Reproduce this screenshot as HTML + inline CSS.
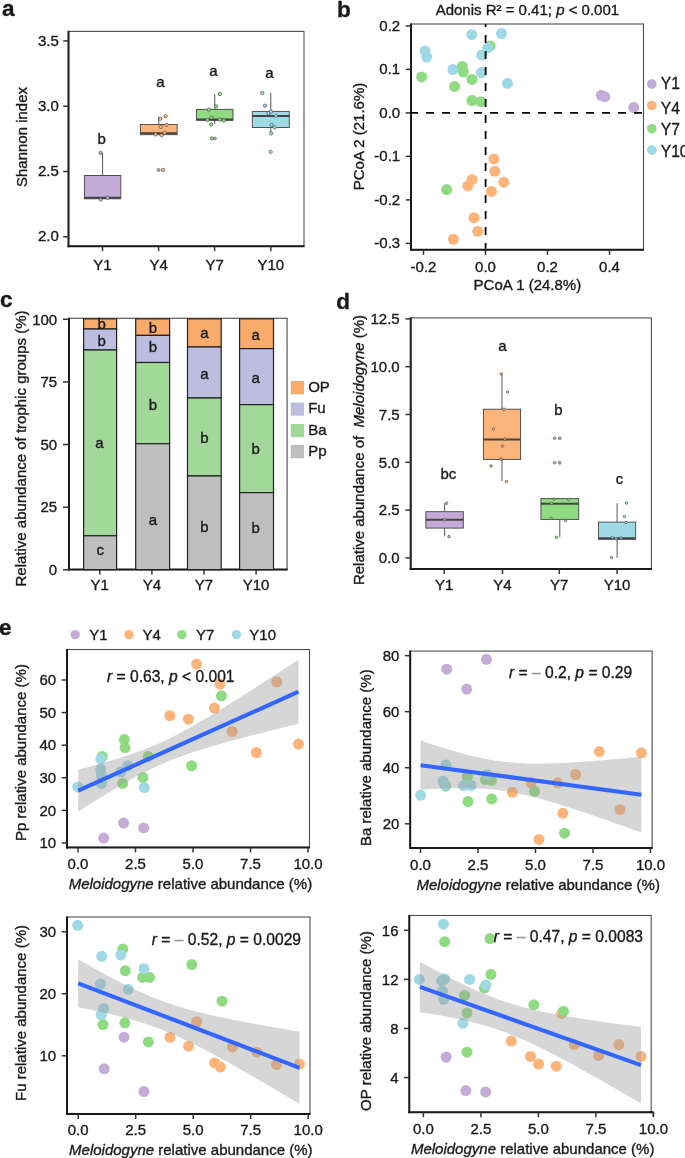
<!DOCTYPE html>
<html><head><meta charset="utf-8"><style>html,body{margin:0;padding:0;background:#fff;width:685px;height:1158px;overflow:hidden}svg{display:block;will-change:transform} text{stroke:#1a1a1a;stroke-width:0.35px}</style></head>
<body>
<svg width="685" height="1158" viewBox="0 0 685 1158" font-family='"Liberation Sans", sans-serif' fill="#1a1a1a">
<rect width="685" height="1158" fill="#fff"/>
<text x="1.9" y="15.8" font-size="22.5" text-anchor="start" font-weight="bold">a</text>
<text x="336.9" y="16.6" font-size="22.5" text-anchor="start" font-weight="bold">b</text>
<text x="0" y="306.6" font-size="22.5" text-anchor="start" font-weight="bold">c</text>
<text x="336.3" y="308.8" font-size="22.5" text-anchor="start" font-weight="bold">d</text>
<text x="-1" y="634.9" font-size="22.5" text-anchor="start" font-weight="bold">e</text>
<rect x="68.5" y="31.4" width="235.5" height="214.79999999999998" fill="none" stroke="#4d4d4d" stroke-width="1.1"/>
<line x1="68.5" y1="30.9" x2="68.5" y2="247.2" stroke="#1a1a1a" stroke-width="2" />
<line x1="67.5" y1="246.2" x2="304.5" y2="246.2" stroke="#1a1a1a" stroke-width="2" />
<line x1="63.2" y1="236.8" x2="68.5" y2="236.8" stroke="#333" stroke-width="1.5" />
<text x="58.9" y="241.4" font-size="15" text-anchor="end" >2.0</text>
<line x1="63.2" y1="171.5" x2="68.5" y2="171.5" stroke="#333" stroke-width="1.5" />
<text x="58.9" y="176.1" font-size="15" text-anchor="end" >2.5</text>
<line x1="63.2" y1="106.20000000000002" x2="68.5" y2="106.20000000000002" stroke="#333" stroke-width="1.5" />
<text x="58.9" y="110.80000000000001" font-size="15" text-anchor="end" >3.0</text>
<line x1="63.2" y1="40.900000000000034" x2="68.5" y2="40.900000000000034" stroke="#333" stroke-width="1.5" />
<text x="58.9" y="45.500000000000036" font-size="15" text-anchor="end" >3.5</text>
<line x1="102.5" y1="246.2" x2="102.5" y2="251.2" stroke="#333" stroke-width="1.5" />
<text x="102.5" y="270" font-size="15" text-anchor="middle" >Y1</text>
<line x1="158.6" y1="246.2" x2="158.6" y2="251.2" stroke="#333" stroke-width="1.5" />
<text x="158.6" y="270" font-size="15" text-anchor="middle" >Y4</text>
<line x1="214.6" y1="246.2" x2="214.6" y2="251.2" stroke="#333" stroke-width="1.5" />
<text x="214.6" y="270" font-size="15" text-anchor="middle" >Y7</text>
<line x1="270.8" y1="246.2" x2="270.8" y2="251.2" stroke="#333" stroke-width="1.5" />
<text x="270.8" y="270" font-size="15" text-anchor="middle" >Y10</text>
<text x="21.5" y="137" font-size="15" text-anchor="middle" transform="rotate(-90 21.5 137)" dy="5">Shannon index</text>
<line x1="102.6" y1="152.9" x2="102.6" y2="175.5" stroke="#444" stroke-width="0.9" />
<rect x="84.4" y="175.5" width="36.39999999999999" height="23.30000000000001" fill="#c4abd8" stroke="#444" stroke-width="0.9"/>
<line x1="84.4" y1="197.8" x2="120.8" y2="197.8" stroke="#444" stroke-width="2" />
<line x1="158.75" y1="116.6" x2="158.75" y2="124.5" stroke="#444" stroke-width="0.9" />
<rect x="140.4" y="124.5" width="36.69999999999999" height="10.199999999999989" fill="#fdb47b" stroke="#444" stroke-width="0.9"/>
<line x1="140.4" y1="133.2" x2="177.1" y2="133.2" stroke="#444" stroke-width="2" />
<line x1="214.75" y1="94" x2="214.75" y2="109.4" stroke="#444" stroke-width="0.9" />
<line x1="214.75" y1="120.3" x2="214.75" y2="124" stroke="#444" stroke-width="0.9" />
<rect x="196.5" y="109.4" width="36.5" height="10.899999999999991" fill="#8fdb82" stroke="#444" stroke-width="0.9"/>
<line x1="196.5" y1="119.6" x2="233" y2="119.6" stroke="#444" stroke-width="2" />
<line x1="270.8" y1="93" x2="270.8" y2="111.4" stroke="#444" stroke-width="0.9" />
<line x1="270.8" y1="127.5" x2="270.8" y2="133.4" stroke="#444" stroke-width="0.9" />
<rect x="252.3" y="111.4" width="37.0" height="16.099999999999994" fill="#9fd9e5" stroke="#444" stroke-width="0.9"/>
<line x1="252.3" y1="116.1" x2="289.3" y2="116.1" stroke="#444" stroke-width="2" />
<circle cx="100.7" cy="199.6" r="1.7" fill="#c4abd8" stroke="#444" stroke-width="0.6"/>
<circle cx="107.7" cy="197.6" r="1.7" fill="#c4abd8" stroke="#444" stroke-width="0.6"/>
<circle cx="100.5" cy="152.9" r="1.7" fill="#c4abd8" stroke="#444" stroke-width="0.6"/>
<circle cx="158.5" cy="169.9" r="2" fill="#999"/>
<circle cx="160.3" cy="118.8" r="1.7" fill="#fdb47b" stroke="#444" stroke-width="0.6"/>
<circle cx="165.5" cy="116.3" r="1.7" fill="#fdb47b" stroke="#444" stroke-width="0.6"/>
<circle cx="160.8" cy="127" r="1.7" fill="#fdb47b" stroke="#444" stroke-width="0.6"/>
<circle cx="166.5" cy="124.8" r="1.7" fill="#fdb47b" stroke="#444" stroke-width="0.6"/>
<circle cx="155.6" cy="134.4" r="1.7" fill="#fdb47b" stroke="#444" stroke-width="0.6"/>
<circle cx="161.5" cy="135.2" r="1.7" fill="#fdb47b" stroke="#444" stroke-width="0.6"/>
<circle cx="164.7" cy="132.7" r="1.7" fill="#fdb47b" stroke="#444" stroke-width="0.6"/>
<circle cx="163" cy="169.9" r="1.7" fill="#fdb47b" stroke="#444" stroke-width="0.6"/>
<circle cx="214.9" cy="138.4" r="2" fill="#999"/>
<circle cx="219.8" cy="94" r="1.7" fill="#8fdb82" stroke="#444" stroke-width="0.6"/>
<circle cx="216.1" cy="106.4" r="1.7" fill="#8fdb82" stroke="#444" stroke-width="0.6"/>
<circle cx="208.9" cy="109.6" r="1.7" fill="#8fdb82" stroke="#444" stroke-width="0.6"/>
<circle cx="211.6" cy="117.6" r="1.7" fill="#8fdb82" stroke="#444" stroke-width="0.6"/>
<circle cx="207.4" cy="120" r="1.7" fill="#8fdb82" stroke="#444" stroke-width="0.6"/>
<circle cx="220" cy="119.6" r="1.7" fill="#8fdb82" stroke="#444" stroke-width="0.6"/>
<circle cx="223.8" cy="120.5" r="1.7" fill="#8fdb82" stroke="#444" stroke-width="0.6"/>
<circle cx="211.1" cy="124.5" r="1.7" fill="#8fdb82" stroke="#444" stroke-width="0.6"/>
<circle cx="211.9" cy="138.4" r="1.7" fill="#8fdb82" stroke="#444" stroke-width="0.6"/>
<circle cx="262.3" cy="93" r="1.7" fill="#9fd9e5" stroke="#444" stroke-width="0.6"/>
<circle cx="265" cy="105.7" r="1.7" fill="#9fd9e5" stroke="#444" stroke-width="0.6"/>
<circle cx="268.5" cy="113.1" r="1.7" fill="#9fd9e5" stroke="#444" stroke-width="0.6"/>
<circle cx="271" cy="111.6" r="1.7" fill="#9fd9e5" stroke="#444" stroke-width="0.6"/>
<circle cx="275.9" cy="115.8" r="1.7" fill="#9fd9e5" stroke="#444" stroke-width="0.6"/>
<circle cx="271.7" cy="124.8" r="1.7" fill="#9fd9e5" stroke="#444" stroke-width="0.6"/>
<circle cx="274.7" cy="127.5" r="1.7" fill="#9fd9e5" stroke="#444" stroke-width="0.6"/>
<circle cx="271.2" cy="133.4" r="1.7" fill="#9fd9e5" stroke="#444" stroke-width="0.6"/>
<circle cx="270.7" cy="151.8" r="1.7" fill="#9fd9e5" stroke="#444" stroke-width="0.6"/>
<text x="101.7" y="143.5" font-size="15" text-anchor="middle" >b</text>
<text x="160.3" y="86.8" font-size="15" text-anchor="middle" >a</text>
<text x="213.3" y="76.1" font-size="15" text-anchor="middle" >a</text>
<text x="269.5" y="77.9" font-size="15" text-anchor="middle" >a</text>
<rect x="411.0" y="24" width="232.5" height="225.8" fill="none" stroke="#4d4d4d" stroke-width="1.1"/>
<line x1="411.0" y1="23.5" x2="411.0" y2="250.8" stroke="#1a1a1a" stroke-width="2" />
<line x1="410.0" y1="249.8" x2="644.0" y2="249.8" stroke="#1a1a1a" stroke-width="2" />
<line x1="405.7" y1="25.900000000000006" x2="411.0" y2="25.900000000000006" stroke="#333" stroke-width="1.5" />
<text x="400.2" y="30.500000000000007" font-size="15" text-anchor="end" >0.2</text>
<line x1="405.7" y1="69.4" x2="411.0" y2="69.4" stroke="#333" stroke-width="1.5" />
<text x="400.2" y="74.0" font-size="15" text-anchor="end" >0.1</text>
<line x1="405.7" y1="112.9" x2="411.0" y2="112.9" stroke="#333" stroke-width="1.5" />
<text x="400.2" y="117.5" font-size="15" text-anchor="end" >0.0</text>
<line x1="405.7" y1="156.4" x2="411.0" y2="156.4" stroke="#333" stroke-width="1.5" />
<text x="400.2" y="161.0" font-size="15" text-anchor="end" >-0.1</text>
<line x1="405.7" y1="199.9" x2="411.0" y2="199.9" stroke="#333" stroke-width="1.5" />
<text x="400.2" y="204.5" font-size="15" text-anchor="end" >-0.2</text>
<line x1="405.7" y1="243.4" x2="411.0" y2="243.4" stroke="#333" stroke-width="1.5" />
<text x="400.2" y="248.0" font-size="15" text-anchor="end" >-0.3</text>
<line x1="423.5" y1="249.8" x2="423.5" y2="254.8" stroke="#333" stroke-width="1.5" />
<text x="423.5" y="271.5" font-size="15" text-anchor="middle" >-0.2</text>
<line x1="485.5" y1="249.8" x2="485.5" y2="254.8" stroke="#333" stroke-width="1.5" />
<text x="485.5" y="271.5" font-size="15" text-anchor="middle" >0.0</text>
<line x1="547.5" y1="249.8" x2="547.5" y2="254.8" stroke="#333" stroke-width="1.5" />
<text x="547.5" y="271.5" font-size="15" text-anchor="middle" >0.2</text>
<line x1="609.5" y1="249.8" x2="609.5" y2="254.8" stroke="#333" stroke-width="1.5" />
<text x="609.5" y="271.5" font-size="15" text-anchor="middle" >0.4</text>
<text x="527.4" y="15" font-size="15" text-anchor="middle" >Adonis R² = 0.41; <tspan font-style="italic">p</tspan> &lt; 0.001</text>
<text x="527.4" y="289.5" font-size="15" text-anchor="middle" >PCoA 1 (24.8%)</text>
<text x="358.6" y="136.5" font-size="15" text-anchor="middle" transform="rotate(-90 358.6 136.5)" dy="5">PCoA 2 (21.6%)</text>
<circle cx="601.3" cy="95.3" r="5.5" fill="#c4abd8" />
<circle cx="604.8" cy="96.7" r="5.5" fill="#c4abd8" />
<circle cx="633.7" cy="107.5" r="5.5" fill="#c4abd8" />
<circle cx="493.8" cy="158.9" r="5.5" fill="#fdb47b" />
<circle cx="494.8" cy="171.3" r="5.5" fill="#fdb47b" />
<circle cx="503.8" cy="182.2" r="5.5" fill="#fdb47b" />
<circle cx="472" cy="179.7" r="5.5" fill="#fdb47b" />
<circle cx="467.8" cy="185.9" r="5.5" fill="#fdb47b" />
<circle cx="491.4" cy="191.4" r="5.5" fill="#fdb47b" />
<circle cx="474" cy="217.7" r="5.5" fill="#fdb47b" />
<circle cx="477.7" cy="231.3" r="5.5" fill="#fdb47b" />
<circle cx="453.4" cy="239.3" r="5.5" fill="#fdb47b" />
<circle cx="490.1" cy="45.9" r="5.5" fill="#8fdb82" />
<circle cx="462.3" cy="66.5" r="5.5" fill="#8fdb82" />
<circle cx="463.3" cy="72" r="5.5" fill="#8fdb82" />
<circle cx="421.6" cy="76.9" r="5.5" fill="#8fdb82" />
<circle cx="472" cy="79.4" r="5.5" fill="#8fdb82" />
<circle cx="454.6" cy="86.4" r="5.5" fill="#8fdb82" />
<circle cx="472" cy="100.5" r="5.5" fill="#8fdb82" />
<circle cx="481" cy="101.7" r="5.5" fill="#8fdb82" />
<circle cx="446.7" cy="189.6" r="5.5" fill="#8fdb82" />
<circle cx="471.8" cy="34.7" r="5.5" fill="#9fd9e5" />
<circle cx="501.5" cy="33.5" r="5.5" fill="#9fd9e5" />
<circle cx="425.1" cy="50.9" r="5.5" fill="#9fd9e5" />
<circle cx="426.6" cy="57.1" r="5.5" fill="#9fd9e5" />
<circle cx="487.9" cy="47.9" r="5.5" fill="#9fd9e5" />
<circle cx="481.7" cy="55.1" r="5.5" fill="#9fd9e5" />
<circle cx="452.9" cy="69.5" r="5.5" fill="#9fd9e5" />
<circle cx="481.4" cy="72.5" r="5.5" fill="#9fd9e5" />
<circle cx="507.5" cy="83.4" r="5.5" fill="#9fd9e5" />
<line x1="410.1" y1="112.9" x2="643.0" y2="112.9" stroke="#000" stroke-width="1.8" stroke-dasharray="8 8"/>
<line x1="485.6" y1="24" x2="485.6" y2="248.8" stroke="#000" stroke-width="1.8" stroke-dasharray="8 8" stroke-dashoffset="4.9"/>
<circle cx="651.8" cy="84" r="4.8" fill="#c4abd8"/>
<text x="660.8" y="88.8" font-size="15.6" text-anchor="start" >Y1</text>
<circle cx="651.8" cy="105.5" r="4.8" fill="#fdb47b"/>
<text x="660.8" y="113.8" font-size="15.6" text-anchor="start" >Y4</text>
<circle cx="651.8" cy="128.7" r="4.8" fill="#8fdb82"/>
<text x="660.8" y="134.8" font-size="15.6" text-anchor="start" >Y7</text>
<circle cx="651.8" cy="150.1" r="4.8" fill="#9fd9e5"/>
<text x="660.8" y="157.3" font-size="15.6" text-anchor="start" >Y10</text>
<rect x="69" y="318.3" width="218.10000000000002" height="251.3" fill="none" stroke="#4d4d4d" stroke-width="1.1"/>
<line x1="69" y1="317.8" x2="69" y2="570.6" stroke="#1a1a1a" stroke-width="2" />
<line x1="68" y1="569.6" x2="287.6" y2="569.6" stroke="#1a1a1a" stroke-width="2" />
<line x1="63" y1="569.8" x2="69" y2="569.8" stroke="#333" stroke-width="1.5" />
<text x="57.2" y="575.0" font-size="15" text-anchor="end" >0</text>
<line x1="63" y1="507.17499999999995" x2="69" y2="507.17499999999995" stroke="#333" stroke-width="1.5" />
<text x="57.2" y="512.375" font-size="15" text-anchor="end" >25</text>
<line x1="63" y1="444.54999999999995" x2="69" y2="444.54999999999995" stroke="#333" stroke-width="1.5" />
<text x="57.2" y="449.74999999999994" font-size="15" text-anchor="end" >50</text>
<line x1="63" y1="381.92499999999995" x2="69" y2="381.92499999999995" stroke="#333" stroke-width="1.5" />
<text x="57.2" y="387.12499999999994" font-size="15" text-anchor="end" >75</text>
<line x1="63" y1="319.29999999999995" x2="69" y2="319.29999999999995" stroke="#333" stroke-width="1.5" />
<text x="57.2" y="324.49999999999994" font-size="15" text-anchor="end" >100</text>
<line x1="99.8" y1="569.6" x2="99.8" y2="574.6" stroke="#333" stroke-width="1.5" />
<text x="99.8" y="590" font-size="15" text-anchor="middle" >Y1</text>
<line x1="151.9" y1="569.6" x2="151.9" y2="574.6" stroke="#333" stroke-width="1.5" />
<text x="151.9" y="590" font-size="15" text-anchor="middle" >Y4</text>
<line x1="204" y1="569.6" x2="204" y2="574.6" stroke="#333" stroke-width="1.5" />
<text x="204" y="590" font-size="15" text-anchor="middle" >Y7</text>
<line x1="256.1" y1="569.6" x2="256.1" y2="574.6" stroke="#333" stroke-width="1.5" />
<text x="256.1" y="590" font-size="15" text-anchor="middle" >Y10</text>
<text x="21" y="448.5" font-size="15" text-anchor="middle" transform="rotate(-90 21 448.5)" dy="5">Relative abundance of trophic groups (%)</text>
<rect x="83.6" y="318.8" width="33.0" height="10.199999999999989" fill="#f9ab6b" stroke="#222" stroke-width="1.2"/>
<rect x="83.6" y="329" width="33.0" height="21" fill="#bcbddf" stroke="#222" stroke-width="1.2"/>
<rect x="83.6" y="350" width="33.0" height="185.79999999999995" fill="#a2d899" stroke="#222" stroke-width="1.2"/>
<rect x="83.6" y="535.8" width="33.0" height="33.80000000000007" fill="#bebebe" stroke="#222" stroke-width="1.2"/>
<rect x="135.7" y="318.8" width="33.900000000000006" height="16.599999999999966" fill="#f9ab6b" stroke="#222" stroke-width="1.2"/>
<rect x="135.7" y="335.4" width="33.900000000000006" height="27.100000000000023" fill="#bcbddf" stroke="#222" stroke-width="1.2"/>
<rect x="135.7" y="362.5" width="33.900000000000006" height="81.19999999999999" fill="#a2d899" stroke="#222" stroke-width="1.2"/>
<rect x="135.7" y="443.7" width="33.900000000000006" height="125.90000000000003" fill="#bebebe" stroke="#222" stroke-width="1.2"/>
<rect x="187.5" y="318.8" width="33.69999999999999" height="28.19999999999999" fill="#f9ab6b" stroke="#222" stroke-width="1.2"/>
<rect x="187.5" y="347" width="33.69999999999999" height="51" fill="#bcbddf" stroke="#222" stroke-width="1.2"/>
<rect x="187.5" y="398" width="33.69999999999999" height="78" fill="#a2d899" stroke="#222" stroke-width="1.2"/>
<rect x="187.5" y="476" width="33.69999999999999" height="93.60000000000002" fill="#bebebe" stroke="#222" stroke-width="1.2"/>
<rect x="239.6" y="318.8" width="33.900000000000006" height="29.80000000000001" fill="#f9ab6b" stroke="#222" stroke-width="1.2"/>
<rect x="239.6" y="348.6" width="33.900000000000006" height="56.0" fill="#bcbddf" stroke="#222" stroke-width="1.2"/>
<rect x="239.6" y="404.6" width="33.900000000000006" height="88.0" fill="#a2d899" stroke="#222" stroke-width="1.2"/>
<rect x="239.6" y="492.6" width="33.900000000000006" height="77.0" fill="#bebebe" stroke="#222" stroke-width="1.2"/>
<text x="101.7" y="329.0" font-size="15" text-anchor="middle" >b</text>
<text x="101.7" y="346.40000000000003" font-size="15" text-anchor="middle" >b</text>
<text x="99.3" y="447.7" font-size="15" text-anchor="middle" >a</text>
<text x="100.2" y="555.4" font-size="15" text-anchor="middle" >c</text>
<text x="152.9" y="332.5" font-size="15" text-anchor="middle" >b</text>
<text x="152.9" y="352.3" font-size="15" text-anchor="middle" >b</text>
<text x="152.9" y="410.40000000000003" font-size="15" text-anchor="middle" >b</text>
<text x="152.9" y="524.6999999999999" font-size="15" text-anchor="middle" >a</text>
<text x="204.5" y="337.59999999999997" font-size="15" text-anchor="middle" >a</text>
<text x="204.5" y="379.29999999999995" font-size="15" text-anchor="middle" >a</text>
<text x="204.5" y="442.7" font-size="15" text-anchor="middle" >b</text>
<text x="204.5" y="532.0" font-size="15" text-anchor="middle" >b</text>
<text x="255.6" y="339.59999999999997" font-size="15" text-anchor="middle" >a</text>
<text x="255.6" y="383.2" font-size="15" text-anchor="middle" >a</text>
<text x="255.6" y="454.1" font-size="15" text-anchor="middle" >b</text>
<text x="255.6" y="532.5" font-size="15" text-anchor="middle" >b</text>
<rect x="290.8" y="381" width="13.2" height="13.2" fill="#f9ab6b"/>
<text x="308.2" y="391.6" font-size="15" text-anchor="start" >OP</text>
<rect x="290.8" y="402.5" width="13.2" height="13.2" fill="#bcbddf"/>
<text x="308.2" y="413.1" font-size="15" text-anchor="start" >Fu</text>
<rect x="290.8" y="424" width="13.2" height="13.2" fill="#a2d899"/>
<text x="308.2" y="434.6" font-size="15" text-anchor="start" >Ba</text>
<rect x="290.8" y="445" width="13.2" height="13.2" fill="#bebebe"/>
<text x="308.2" y="455.6" font-size="15" text-anchor="start" >Pp</text>
<rect x="410.7" y="317.9" width="240.7" height="251.10000000000002" fill="none" stroke="#4d4d4d" stroke-width="1.1"/>
<line x1="410.7" y1="317.4" x2="410.7" y2="570" stroke="#1a1a1a" stroke-width="2" />
<line x1="409.7" y1="569" x2="651.9" y2="569" stroke="#1a1a1a" stroke-width="2" />
<line x1="405.4" y1="557.9" x2="410.7" y2="557.9" stroke="#333" stroke-width="1.5" />
<text x="399.7" y="563.1" font-size="15" text-anchor="end" >0.0</text>
<line x1="405.4" y1="510.09999999999997" x2="410.7" y2="510.09999999999997" stroke="#333" stroke-width="1.5" />
<text x="399.7" y="515.3" font-size="15" text-anchor="end" >2.5</text>
<line x1="405.4" y1="462.29999999999995" x2="410.7" y2="462.29999999999995" stroke="#333" stroke-width="1.5" />
<text x="399.7" y="467.49999999999994" font-size="15" text-anchor="end" >5.0</text>
<line x1="405.4" y1="414.5" x2="410.7" y2="414.5" stroke="#333" stroke-width="1.5" />
<text x="399.7" y="419.7" font-size="15" text-anchor="end" >7.5</text>
<line x1="405.4" y1="366.69999999999993" x2="410.7" y2="366.69999999999993" stroke="#333" stroke-width="1.5" />
<text x="399.7" y="371.8999999999999" font-size="15" text-anchor="end" >10.0</text>
<line x1="405.4" y1="318.9" x2="410.7" y2="318.9" stroke="#333" stroke-width="1.5" />
<text x="399.7" y="324.09999999999997" font-size="15" text-anchor="end" >12.5</text>
<line x1="444.2" y1="569" x2="444.2" y2="574" stroke="#333" stroke-width="1.5" />
<text x="444.2" y="590" font-size="15" text-anchor="middle" >Y1</text>
<line x1="502.5" y1="569" x2="502.5" y2="574" stroke="#333" stroke-width="1.5" />
<text x="502.5" y="590" font-size="15" text-anchor="middle" >Y4</text>
<line x1="559.3" y1="569" x2="559.3" y2="574" stroke="#333" stroke-width="1.5" />
<text x="559.3" y="590" font-size="15" text-anchor="middle" >Y7</text>
<line x1="617.1" y1="569" x2="617.1" y2="574" stroke="#333" stroke-width="1.5" />
<text x="617.1" y="590" font-size="15" text-anchor="middle" >Y10</text>
<text x="359" y="450" font-size="15" text-anchor="middle" transform="rotate(-90 359 450)" dy="5" style="white-space:pre">Relative abundance of  <tspan font-style="italic">Meloidogyne</tspan> (%)</text>
<line x1="444.6" y1="503.3" x2="444.6" y2="511.7" stroke="#444" stroke-width="0.9" />
<line x1="444.6" y1="528.1" x2="444.6" y2="536.3" stroke="#444" stroke-width="0.9" />
<rect x="425.9" y="511.7" width="37.400000000000034" height="16.400000000000034" fill="#c4abd8" stroke="#444" stroke-width="0.9"/>
<line x1="425.9" y1="519.7" x2="463.3" y2="519.7" stroke="#444" stroke-width="2" />
<line x1="502.0" y1="374" x2="502.0" y2="409.2" stroke="#444" stroke-width="0.9" />
<line x1="502.0" y1="459.4" x2="502.0" y2="481" stroke="#444" stroke-width="0.9" />
<rect x="483.4" y="409.2" width="37.200000000000045" height="50.19999999999999" fill="#fdb47b" stroke="#444" stroke-width="0.9"/>
<line x1="483.4" y1="439.5" x2="520.6" y2="439.5" stroke="#444" stroke-width="2" />
<line x1="559.8" y1="519.4" x2="559.8" y2="537.3" stroke="#444" stroke-width="0.9" />
<rect x="540.9" y="498.6" width="37.80000000000007" height="20.799999999999955" fill="#8fdb82" stroke="#444" stroke-width="0.9"/>
<line x1="540.9" y1="503.8" x2="578.7" y2="503.8" stroke="#444" stroke-width="2" />
<line x1="617.1" y1="503.3" x2="617.1" y2="522.1" stroke="#444" stroke-width="0.9" />
<line x1="617.1" y1="539.3" x2="617.1" y2="557.9" stroke="#444" stroke-width="0.9" />
<rect x="598.5" y="522.1" width="37.200000000000045" height="17.199999999999932" fill="#9fd9e5" stroke="#444" stroke-width="0.9"/>
<line x1="598.5" y1="538.3" x2="635.7" y2="538.3" stroke="#444" stroke-width="2" />
<text x="448.3" y="478.5" font-size="15" text-anchor="middle" >bc</text>
<text x="502.5" y="350.9" font-size="15" text-anchor="middle" >a</text>
<text x="558.3" y="414.6" font-size="15" text-anchor="middle" >b</text>
<text x="619.4" y="484.2" font-size="15" text-anchor="middle" >c</text>
<circle cx="444.5" cy="519.7" r="1.3" fill="#c4abd8" stroke="#444" stroke-width="0.6"/>
<circle cx="446.5" cy="503.3" r="1.3" fill="#c4abd8" stroke="#444" stroke-width="0.6"/>
<circle cx="449" cy="536.5" r="1.3" fill="#c4abd8" stroke="#444" stroke-width="0.6"/>
<circle cx="501.2" cy="374" r="1.3" fill="#fdb47b" stroke="#444" stroke-width="0.6"/>
<circle cx="507.5" cy="392" r="1.3" fill="#fdb47b" stroke="#444" stroke-width="0.6"/>
<circle cx="504" cy="409.3" r="1.3" fill="#fdb47b" stroke="#444" stroke-width="0.6"/>
<circle cx="493.5" cy="429" r="1.3" fill="#fdb47b" stroke="#444" stroke-width="0.6"/>
<circle cx="505" cy="439" r="1.3" fill="#fdb47b" stroke="#444" stroke-width="0.6"/>
<circle cx="502.5" cy="446" r="1.3" fill="#fdb47b" stroke="#444" stroke-width="0.6"/>
<circle cx="501" cy="459" r="1.3" fill="#fdb47b" stroke="#444" stroke-width="0.6"/>
<circle cx="491" cy="466" r="1.3" fill="#fdb47b" stroke="#444" stroke-width="0.6"/>
<circle cx="506.5" cy="481.5" r="1.3" fill="#fdb47b" stroke="#444" stroke-width="0.6"/>
<circle cx="559.6" cy="438.2" r="2" fill="#999"/><circle cx="559.6" cy="462.7" r="2" fill="#999"/>
<circle cx="554.6" cy="438.2" r="1.3" fill="#8fdb82" stroke="#444" stroke-width="0.6"/>
<circle cx="554.6" cy="462.7" r="1.3" fill="#8fdb82" stroke="#444" stroke-width="0.6"/>
<circle cx="554" cy="499" r="1.3" fill="#8fdb82" stroke="#444" stroke-width="0.6"/>
<circle cx="568.5" cy="499.5" r="1.3" fill="#8fdb82" stroke="#444" stroke-width="0.6"/>
<circle cx="551.5" cy="503.5" r="1.3" fill="#8fdb82" stroke="#444" stroke-width="0.6"/>
<circle cx="551" cy="518.5" r="1.3" fill="#8fdb82" stroke="#444" stroke-width="0.6"/>
<circle cx="565.5" cy="520.5" r="1.3" fill="#8fdb82" stroke="#444" stroke-width="0.6"/>
<circle cx="556.5" cy="537.3" r="1.3" fill="#8fdb82" stroke="#444" stroke-width="0.6"/>
<circle cx="626.5" cy="503" r="1.3" fill="#9fd9e5" stroke="#444" stroke-width="0.6"/>
<circle cx="624.5" cy="516.5" r="1.3" fill="#9fd9e5" stroke="#444" stroke-width="0.6"/>
<circle cx="626" cy="522.5" r="1.3" fill="#9fd9e5" stroke="#444" stroke-width="0.6"/>
<circle cx="612.5" cy="537.5" r="1.3" fill="#9fd9e5" stroke="#444" stroke-width="0.6"/>
<circle cx="616" cy="538.5" r="1.3" fill="#9fd9e5" stroke="#444" stroke-width="0.6"/>
<circle cx="621" cy="538" r="1.3" fill="#9fd9e5" stroke="#444" stroke-width="0.6"/>
<circle cx="611.5" cy="557.5" r="1.3" fill="#9fd9e5" stroke="#444" stroke-width="0.6"/>
<circle cx="75.2" cy="634.6" r="4.7" fill="#c4abd8"/>
<text x="89.3" y="639.8" font-size="15" text-anchor="start" >Y1</text>
<circle cx="129" cy="634.6" r="4.7" fill="#fdb47b"/>
<text x="142.5" y="639.8" font-size="15" text-anchor="start" >Y4</text>
<circle cx="181.8" cy="634.6" r="4.7" fill="#8fdb82"/>
<text x="196" y="639.8" font-size="15" text-anchor="start" >Y7</text>
<circle cx="236.4" cy="634.6" r="4.7" fill="#9fd9e5"/>
<text x="249.3" y="639.8" font-size="15" text-anchor="start" >Y10</text>
<circle cx="103.7" cy="838.1" r="5.5" fill="#c4abd8" />
<circle cx="123.6" cy="823" r="5.5" fill="#c4abd8" />
<circle cx="143.6" cy="827.9" r="5.5" fill="#c4abd8" />
<circle cx="196.5" cy="664.1" r="5.5" fill="#fdb47b" />
<circle cx="220" cy="684.2" r="5.5" fill="#fdb47b" />
<circle cx="214.4" cy="708" r="5.5" fill="#fdb47b" />
<circle cx="169.9" cy="715.7" r="5.5" fill="#fdb47b" />
<circle cx="188.4" cy="719.2" r="5.5" fill="#fdb47b" />
<circle cx="232.2" cy="731.5" r="5.5" fill="#fdb47b" />
<circle cx="276.7" cy="681.8" r="5.5" fill="#fdb47b" />
<circle cx="256.4" cy="752.5" r="5.5" fill="#fdb47b" />
<circle cx="298.5" cy="744.1" r="5.5" fill="#fdb47b" />
<circle cx="102.2" cy="756.4" r="5.5" fill="#8fdb82" />
<circle cx="124.3" cy="739.6" r="5.5" fill="#8fdb82" />
<circle cx="125" cy="747.6" r="5.5" fill="#8fdb82" />
<circle cx="122.6" cy="783.4" r="5.5" fill="#8fdb82" />
<circle cx="148.1" cy="756.4" r="5.5" fill="#8fdb82" />
<circle cx="142.9" cy="777.4" r="5.5" fill="#8fdb82" />
<circle cx="191.6" cy="765.8" r="5.5" fill="#8fdb82" />
<circle cx="221.4" cy="695.8" r="5.5" fill="#8fdb82" />
<circle cx="77.7" cy="786.9" r="5.5" fill="#9fd9e5" />
<circle cx="100.8" cy="758.8" r="5.5" fill="#9fd9e5" />
<circle cx="100.8" cy="769.3" r="5.5" fill="#9fd9e5" />
<circle cx="101.5" cy="775.5" r="5.5" fill="#9fd9e5" />
<circle cx="101.5" cy="783.4" r="5.5" fill="#9fd9e5" />
<circle cx="127.8" cy="765.8" r="5.5" fill="#9fd9e5" />
<circle cx="120.8" cy="771.8" r="5.5" fill="#9fd9e5" />
<circle cx="144.3" cy="787.6" r="5.5" fill="#9fd9e5" />
<path d="M78.2,769.7 L81.9,768.7 L85.5,767.7 L89.2,766.8 L92.9,765.7 L96.6,764.7 L100.2,763.7 L103.9,762.7 L107.6,761.6 L111.2,760.5 L114.9,759.4 L118.6,758.3 L122.3,757.1 L125.9,755.9 L129.6,754.7 L133.3,753.4 L136.9,752.1 L140.6,750.8 L144.3,749.4 L148.0,748.0 L151.6,746.5 L155.3,744.9 L159.0,743.3 L162.6,741.7 L166.3,740.0 L170.0,738.2 L173.7,736.3 L177.3,734.5 L181.0,732.5 L184.7,730.5 L188.4,728.5 L192.0,726.5 L195.7,724.4 L199.4,722.3 L203.0,720.1 L206.7,717.9 L210.4,715.7 L214.1,713.5 L217.7,711.3 L221.4,709.0 L225.1,706.7 L228.7,704.4 L232.4,702.1 L236.1,699.8 L239.8,697.5 L243.4,695.2 L247.1,692.9 L250.8,690.5 L254.4,688.2 L258.1,685.8 L261.8,683.4 L265.5,681.1 L269.1,678.7 L272.8,676.3 L276.5,674.0 L280.1,671.6 L283.8,669.2 L287.5,666.8 L291.2,664.4 L294.8,662.0 L298.5,659.6 L298.5,723.8 L294.8,724.7 L291.2,725.6 L287.5,726.5 L283.8,727.4 L280.1,728.3 L276.5,729.2 L272.8,730.1 L269.1,731.1 L265.5,732.0 L261.8,732.9 L258.1,733.9 L254.4,734.8 L250.8,735.7 L247.1,736.7 L243.4,737.7 L239.8,738.6 L236.1,739.6 L232.4,740.6 L228.7,741.6 L225.1,742.6 L221.4,743.6 L217.7,744.7 L214.1,745.7 L210.4,746.8 L206.7,747.9 L203.0,749.0 L199.4,750.2 L195.7,751.3 L192.0,752.5 L188.4,753.8 L184.7,755.0 L181.0,756.4 L177.3,757.7 L173.7,759.1 L170.0,760.6 L166.3,762.1 L162.6,763.7 L159.0,765.3 L155.3,767.0 L151.6,768.8 L148.0,770.6 L144.3,772.4 L140.6,774.3 L136.9,776.3 L133.3,778.3 L129.6,780.3 L125.9,782.4 L122.3,784.5 L118.6,786.7 L114.9,788.8 L111.2,791.0 L107.6,793.2 L103.9,795.5 L100.2,797.7 L96.6,800.0 L92.9,802.3 L89.2,804.6 L85.5,806.9 L81.9,809.2 L78.2,811.5Z" fill="#999999" fill-opacity="0.4"/>
<line x1="78.2" y1="790.6" x2="298.5" y2="691.7" stroke="#3366ff" stroke-width="4.1"/>
<rect x="67" y="649.5" width="242.5" height="197.89999999999998" fill="none" stroke="#4d4d4d" stroke-width="1.1"/>
<line x1="67" y1="649.0" x2="67" y2="848.4" stroke="#1a1a1a" stroke-width="2" />
<line x1="66" y1="847.4" x2="310.0" y2="847.4" stroke="#1a1a1a" stroke-width="2" />
<line x1="61.7" y1="843.0" x2="67" y2="843.0" stroke="#333" stroke-width="1.5" />
<text x="56.2" y="848.2" font-size="15" text-anchor="end" >10</text>
<line x1="61.7" y1="810.4" x2="67" y2="810.4" stroke="#333" stroke-width="1.5" />
<text x="56.2" y="815.6" font-size="15" text-anchor="end" >20</text>
<line x1="61.7" y1="777.8" x2="67" y2="777.8" stroke="#333" stroke-width="1.5" />
<text x="56.2" y="783.0" font-size="15" text-anchor="end" >30</text>
<line x1="61.7" y1="745.2" x2="67" y2="745.2" stroke="#333" stroke-width="1.5" />
<text x="56.2" y="750.4000000000001" font-size="15" text-anchor="end" >40</text>
<line x1="61.7" y1="712.6" x2="67" y2="712.6" stroke="#333" stroke-width="1.5" />
<text x="56.2" y="717.8000000000001" font-size="15" text-anchor="end" >50</text>
<line x1="61.7" y1="680.0" x2="67" y2="680.0" stroke="#333" stroke-width="1.5" />
<text x="56.2" y="685.2" font-size="15" text-anchor="end" >60</text>
<line x1="78" y1="847.4" x2="78" y2="852.4" stroke="#333" stroke-width="1.5" />
<text x="78" y="869" font-size="15" text-anchor="middle" >0.0</text>
<line x1="135.5" y1="847.4" x2="135.5" y2="852.4" stroke="#333" stroke-width="1.5" />
<text x="135.5" y="869" font-size="15" text-anchor="middle" >2.5</text>
<line x1="193" y1="847.4" x2="193" y2="852.4" stroke="#333" stroke-width="1.5" />
<text x="193" y="869" font-size="15" text-anchor="middle" >5.0</text>
<line x1="250.5" y1="847.4" x2="250.5" y2="852.4" stroke="#333" stroke-width="1.5" />
<text x="250.5" y="869" font-size="15" text-anchor="middle" >7.5</text>
<line x1="308" y1="847.4" x2="308" y2="852.4" stroke="#333" stroke-width="1.5" />
<text x="308" y="869" font-size="15" text-anchor="middle" >10.0</text>
<text x="21" y="752.5" font-size="15" text-anchor="middle" transform="rotate(-90 21 752.5)" dy="5">Pp relative abundance (%)</text>
<text x="190.4" y="888.5" font-size="15" text-anchor="middle" ><tspan font-style="italic">Meloidogyne</tspan> relative abundance (%)</text>
<text x="107" y="682" font-size="15.6"><tspan font-style="italic">r</tspan> = 0.63, <tspan font-style="italic">p</tspan> &lt; 0.001</text>
<circle cx="446.7" cy="669.2" r="5.5" fill="#c4abd8" />
<circle cx="466.6" cy="689.1" r="5.5" fill="#c4abd8" />
<circle cx="486.4" cy="659.3" r="5.5" fill="#c4abd8" />
<circle cx="599.3" cy="751.6" r="5.5" fill="#fdb47b" />
<circle cx="641.4" cy="752.8" r="5.5" fill="#fdb47b" />
<circle cx="575.7" cy="774.4" r="5.5" fill="#fdb47b" />
<circle cx="557.6" cy="782.8" r="5.5" fill="#fdb47b" />
<circle cx="531" cy="782.8" r="5.5" fill="#fdb47b" />
<circle cx="512.4" cy="792.3" r="5.5" fill="#fdb47b" />
<circle cx="619.9" cy="809.6" r="5.5" fill="#fdb47b" />
<circle cx="562.8" cy="813.3" r="5.5" fill="#fdb47b" />
<circle cx="539" cy="839.4" r="5.5" fill="#fdb47b" />
<circle cx="467.3" cy="777" r="5.5" fill="#8fdb82" />
<circle cx="485.5" cy="779.6" r="5.5" fill="#8fdb82" />
<circle cx="491.4" cy="780.4" r="5.5" fill="#8fdb82" />
<circle cx="445.7" cy="786.2" r="5.5" fill="#8fdb82" />
<circle cx="468" cy="801.5" r="5.5" fill="#8fdb82" />
<circle cx="491.7" cy="798.9" r="5.5" fill="#8fdb82" />
<circle cx="534.5" cy="791.3" r="5.5" fill="#8fdb82" />
<circle cx="564.5" cy="833.2" r="5.5" fill="#8fdb82" />
<circle cx="420.6" cy="795.3" r="5.5" fill="#9fd9e5" />
<circle cx="446" cy="765" r="5.5" fill="#9fd9e5" />
<circle cx="443" cy="781" r="5.5" fill="#9fd9e5" />
<circle cx="463.6" cy="785.5" r="5.5" fill="#9fd9e5" />
<circle cx="471" cy="785.5" r="5.5" fill="#9fd9e5" />
<circle cx="487" cy="774.5" r="5.5" fill="#9fd9e5" />
<circle cx="445" cy="785" r="5.5" fill="#9fd9e5" />
<path d="M420.6,740.6 L424.3,741.8 L428.0,743.0 L431.6,744.2 L435.3,745.4 L439.0,746.5 L442.7,747.7 L446.4,748.8 L450.0,749.9 L453.7,751.0 L457.4,752.0 L461.1,753.0 L464.8,754.0 L468.4,755.0 L472.1,755.9 L475.8,756.7 L479.5,757.6 L483.2,758.3 L486.8,759.1 L490.5,759.7 L494.2,760.4 L497.9,760.9 L501.6,761.4 L505.2,761.9 L508.9,762.2 L512.6,762.6 L516.3,762.9 L520.0,763.1 L523.6,763.3 L527.3,763.4 L531.0,763.5 L534.7,763.5 L538.4,763.6 L542.0,763.5 L545.7,763.5 L549.4,763.4 L553.1,763.3 L556.8,763.2 L560.4,763.0 L564.1,762.9 L567.8,762.7 L571.5,762.5 L575.2,762.2 L578.8,762.0 L582.5,761.8 L586.2,761.5 L589.9,761.2 L593.6,761.0 L597.2,760.7 L600.9,760.4 L604.6,760.1 L608.3,759.8 L612.0,759.5 L615.6,759.1 L619.3,758.8 L623.0,758.5 L626.7,758.2 L630.4,757.8 L634.0,757.5 L637.7,757.1 L641.4,756.8 L641.4,832.6 L637.7,831.3 L634.0,830.0 L630.4,828.6 L626.7,827.3 L623.0,826.0 L619.3,824.7 L615.6,823.4 L612.0,822.1 L608.3,820.8 L604.6,819.5 L600.9,818.2 L597.2,816.9 L593.6,815.7 L589.9,814.4 L586.2,813.1 L582.5,811.9 L578.8,810.7 L575.2,809.5 L571.5,808.3 L567.8,807.1 L564.1,805.9 L560.4,804.7 L556.8,803.6 L553.1,802.5 L549.4,801.4 L545.7,800.3 L542.0,799.3 L538.4,798.3 L534.7,797.3 L531.0,796.4 L527.3,795.5 L523.6,794.7 L520.0,793.9 L516.3,793.1 L512.6,792.4 L508.9,791.8 L505.2,791.2 L501.6,790.6 L497.9,790.1 L494.2,789.7 L490.5,789.3 L486.8,789.0 L483.2,788.8 L479.5,788.6 L475.8,788.4 L472.1,788.3 L468.4,788.2 L464.8,788.2 L461.1,788.2 L457.4,788.2 L453.7,788.3 L450.0,788.4 L446.4,788.5 L442.7,788.6 L439.0,788.8 L435.3,788.9 L431.6,789.1 L428.0,789.3 L424.3,789.6 L420.6,789.8Z" fill="#999999" fill-opacity="0.4"/>
<line x1="420.6" y1="765.2" x2="641.4" y2="794.7" stroke="#3366ff" stroke-width="4.1"/>
<rect x="410.2" y="651.1" width="241.90000000000003" height="196.89999999999998" fill="none" stroke="#4d4d4d" stroke-width="1.1"/>
<line x1="410.2" y1="650.6" x2="410.2" y2="849" stroke="#1a1a1a" stroke-width="2" />
<line x1="409.2" y1="848" x2="652.6" y2="848" stroke="#1a1a1a" stroke-width="2" />
<line x1="404.9" y1="823.8" x2="410.2" y2="823.8" stroke="#333" stroke-width="1.5" />
<text x="399.4" y="829.0" font-size="15" text-anchor="end" >20</text>
<line x1="404.9" y1="767.74" x2="410.2" y2="767.74" stroke="#333" stroke-width="1.5" />
<text x="399.4" y="772.94" font-size="15" text-anchor="end" >40</text>
<line x1="404.9" y1="711.68" x2="410.2" y2="711.68" stroke="#333" stroke-width="1.5" />
<text x="399.4" y="716.88" font-size="15" text-anchor="end" >60</text>
<line x1="404.9" y1="655.6199999999999" x2="410.2" y2="655.6199999999999" stroke="#333" stroke-width="1.5" />
<text x="399.4" y="660.8199999999999" font-size="15" text-anchor="end" >80</text>
<line x1="420.5" y1="848" x2="420.5" y2="853" stroke="#333" stroke-width="1.5" />
<text x="420.5" y="870" font-size="15" text-anchor="middle" >0.0</text>
<line x1="478.0" y1="848" x2="478.0" y2="853" stroke="#333" stroke-width="1.5" />
<text x="478.0" y="870" font-size="15" text-anchor="middle" >2.5</text>
<line x1="535.5" y1="848" x2="535.5" y2="853" stroke="#333" stroke-width="1.5" />
<text x="535.5" y="870" font-size="15" text-anchor="middle" >5.0</text>
<line x1="593.0" y1="848" x2="593.0" y2="853" stroke="#333" stroke-width="1.5" />
<text x="593.0" y="870" font-size="15" text-anchor="middle" >7.5</text>
<line x1="650.5" y1="848" x2="650.5" y2="853" stroke="#333" stroke-width="1.5" />
<text x="650.5" y="870" font-size="15" text-anchor="middle" >10.0</text>
<text x="366" y="757.7" font-size="15" text-anchor="middle" transform="rotate(-90 366 757.7)" dy="5">Ba relative abundance (%)</text>
<text x="538.2" y="889.5" font-size="15" text-anchor="middle" ><tspan font-style="italic">Meloidogyne</tspan> relative abundance (%)</text>
<text x="509" y="678.4" font-size="15.6"><tspan font-style="italic">r</tspan> = <tspan fill="#999" stroke="#999">–</tspan> 0.2, <tspan font-style="italic">p</tspan> = 0.29</text>
<circle cx="124" cy="1037.2" r="5.5" fill="#c4abd8" />
<circle cx="104.2" cy="1068.8" r="5.5" fill="#c4abd8" />
<circle cx="143.9" cy="1091.4" r="5.5" fill="#c4abd8" />
<circle cx="196.7" cy="1021.8" r="5.5" fill="#fdb47b" />
<circle cx="169.9" cy="1037.3" r="5.5" fill="#fdb47b" />
<circle cx="188.5" cy="1046.2" r="5.5" fill="#fdb47b" />
<circle cx="232.5" cy="1047.2" r="5.5" fill="#fdb47b" />
<circle cx="256.8" cy="1052.2" r="5.5" fill="#fdb47b" />
<circle cx="214.6" cy="1062.9" r="5.5" fill="#fdb47b" />
<circle cx="220.3" cy="1067.1" r="5.5" fill="#fdb47b" />
<circle cx="276.6" cy="1064.6" r="5.5" fill="#fdb47b" />
<circle cx="299.5" cy="1064.1" r="5.5" fill="#fdb47b" />
<circle cx="122.8" cy="949.1" r="5.5" fill="#8fdb82" />
<circle cx="125.3" cy="970.7" r="5.5" fill="#8fdb82" />
<circle cx="142.7" cy="977.4" r="5.5" fill="#8fdb82" />
<circle cx="149.6" cy="977.4" r="5.5" fill="#8fdb82" />
<circle cx="103" cy="1024.6" r="5.5" fill="#8fdb82" />
<circle cx="124.8" cy="1022.8" r="5.5" fill="#8fdb82" />
<circle cx="148.4" cy="1041.9" r="5.5" fill="#8fdb82" />
<circle cx="191.8" cy="964.5" r="5.5" fill="#8fdb82" />
<circle cx="222" cy="1001.2" r="5.5" fill="#8fdb82" />
<circle cx="77.7" cy="925.3" r="5.5" fill="#9fd9e5" />
<circle cx="101.7" cy="956.3" r="5.5" fill="#9fd9e5" />
<circle cx="120.8" cy="955.1" r="5.5" fill="#9fd9e5" />
<circle cx="143.9" cy="968.7" r="5.5" fill="#9fd9e5" />
<circle cx="100.5" cy="983.9" r="5.5" fill="#9fd9e5" />
<circle cx="128.3" cy="989.3" r="5.5" fill="#9fd9e5" />
<circle cx="103.7" cy="1008.4" r="5.5" fill="#9fd9e5" />
<circle cx="101.2" cy="1014.6" r="5.5" fill="#9fd9e5" />
<path d="M78.2,959.4 L81.9,961.5 L85.6,963.6 L89.3,965.6 L93.0,967.7 L96.6,969.7 L100.3,971.8 L104.0,973.8 L107.7,975.7 L111.4,977.7 L115.1,979.6 L118.8,981.5 L122.5,983.4 L126.1,985.2 L129.8,987.0 L133.5,988.8 L137.2,990.5 L140.9,992.2 L144.6,993.8 L148.3,995.4 L152.0,996.9 L155.7,998.4 L159.3,999.8 L163.0,1001.2 L166.7,1002.5 L170.4,1003.8 L174.1,1005.0 L177.8,1006.2 L181.5,1007.3 L185.2,1008.4 L188.9,1009.5 L192.5,1010.5 L196.2,1011.4 L199.9,1012.4 L203.6,1013.3 L207.3,1014.2 L211.0,1015.0 L214.7,1015.9 L218.4,1016.7 L222.0,1017.5 L225.7,1018.2 L229.4,1019.0 L233.1,1019.7 L236.8,1020.5 L240.5,1021.2 L244.2,1021.9 L247.9,1022.6 L251.6,1023.3 L255.2,1024.0 L258.9,1024.6 L262.6,1025.3 L266.3,1025.9 L270.0,1026.6 L273.7,1027.2 L277.4,1027.9 L281.1,1028.5 L284.7,1029.1 L288.4,1029.8 L292.1,1030.4 L295.8,1031.0 L299.5,1031.6 L299.5,1104.0 L295.8,1101.8 L292.1,1099.6 L288.4,1097.4 L284.7,1095.2 L281.1,1093.0 L277.4,1090.8 L273.7,1088.6 L270.0,1086.5 L266.3,1084.3 L262.6,1082.1 L258.9,1080.0 L255.2,1077.8 L251.6,1075.7 L247.9,1073.6 L244.2,1071.5 L240.5,1069.3 L236.8,1067.2 L233.1,1065.2 L229.4,1063.1 L225.7,1061.0 L222.0,1059.0 L218.4,1057.0 L214.7,1055.0 L211.0,1053.0 L207.3,1051.0 L203.6,1049.1 L199.9,1047.2 L196.2,1045.3 L192.5,1043.4 L188.9,1041.6 L185.2,1039.9 L181.5,1038.1 L177.8,1036.4 L174.1,1034.8 L170.4,1033.2 L166.7,1031.7 L163.0,1030.2 L159.3,1028.7 L155.7,1027.3 L152.0,1026.0 L148.3,1024.7 L144.6,1023.5 L140.9,1022.3 L137.2,1021.2 L133.5,1020.1 L129.8,1019.0 L126.1,1018.0 L122.5,1017.0 L118.8,1016.1 L115.1,1015.2 L111.4,1014.3 L107.7,1013.4 L104.0,1012.6 L100.3,1011.7 L96.6,1010.9 L93.0,1010.2 L89.3,1009.4 L85.6,1008.7 L81.9,1007.9 L78.2,1007.2Z" fill="#999999" fill-opacity="0.4"/>
<line x1="78.2" y1="983.3" x2="299.5" y2="1067.8" stroke="#3366ff" stroke-width="4.1"/>
<rect x="67" y="917" width="243" height="197" fill="none" stroke="#4d4d4d" stroke-width="1.1"/>
<line x1="67" y1="916.5" x2="67" y2="1115" stroke="#1a1a1a" stroke-width="2" />
<line x1="66" y1="1114" x2="310.5" y2="1114" stroke="#1a1a1a" stroke-width="2" />
<line x1="61.7" y1="1055.8" x2="67" y2="1055.8" stroke="#333" stroke-width="1.5" />
<text x="56.2" y="1061.0" font-size="15" text-anchor="end" >10</text>
<line x1="61.7" y1="993.8" x2="67" y2="993.8" stroke="#333" stroke-width="1.5" />
<text x="56.2" y="999.0" font-size="15" text-anchor="end" >20</text>
<line x1="61.7" y1="931.8" x2="67" y2="931.8" stroke="#333" stroke-width="1.5" />
<text x="56.2" y="937.0" font-size="15" text-anchor="end" >30</text>
<line x1="78.2" y1="1114" x2="78.2" y2="1119" stroke="#333" stroke-width="1.5" />
<text x="78.2" y="1135.3" font-size="15" text-anchor="middle" >0.0</text>
<line x1="135.7" y1="1114" x2="135.7" y2="1119" stroke="#333" stroke-width="1.5" />
<text x="135.7" y="1135.3" font-size="15" text-anchor="middle" >2.5</text>
<line x1="193.2" y1="1114" x2="193.2" y2="1119" stroke="#333" stroke-width="1.5" />
<text x="193.2" y="1135.3" font-size="15" text-anchor="middle" >5.0</text>
<line x1="250.7" y1="1114" x2="250.7" y2="1119" stroke="#333" stroke-width="1.5" />
<text x="250.7" y="1135.3" font-size="15" text-anchor="middle" >7.5</text>
<line x1="308.2" y1="1114" x2="308.2" y2="1119" stroke="#333" stroke-width="1.5" />
<text x="308.2" y="1135.3" font-size="15" text-anchor="middle" >10.0</text>
<text x="21" y="1013" font-size="15" text-anchor="middle" transform="rotate(-90 21 1013)" dy="5">Fu relative abundance (%)</text>
<text x="190.8" y="1155" font-size="15" text-anchor="middle" ><tspan font-style="italic">Meloidogyne</tspan> relative abundance (%)</text>
<text x="301" y="944.7" font-size="15.6" text-anchor="end"><tspan font-style="italic">r</tspan> = <tspan fill="#999" stroke="#999">–</tspan> 0.52, <tspan font-style="italic">p</tspan> = 0.0029</text>
<circle cx="446.2" cy="1057.1" r="5.5" fill="#c4abd8" />
<circle cx="465.8" cy="1090.6" r="5.5" fill="#c4abd8" />
<circle cx="485.7" cy="1091.9" r="5.5" fill="#c4abd8" />
<circle cx="561.6" cy="1013.4" r="5.5" fill="#fdb47b" />
<circle cx="511.3" cy="1041.1" r="5.5" fill="#fdb47b" />
<circle cx="530.5" cy="1056.4" r="5.5" fill="#fdb47b" />
<circle cx="538.6" cy="1064" r="5.5" fill="#fdb47b" />
<circle cx="556.2" cy="1066.2" r="5.5" fill="#fdb47b" />
<circle cx="574.3" cy="1044.6" r="5.5" fill="#fdb47b" />
<circle cx="598.6" cy="1055.4" r="5.5" fill="#fdb47b" />
<circle cx="618.8" cy="1044.6" r="5.5" fill="#fdb47b" />
<circle cx="641" cy="1056.4" r="5.5" fill="#fdb47b" />
<circle cx="444.7" cy="941.7" r="5.5" fill="#8fdb82" />
<circle cx="490.1" cy="938.5" r="5.5" fill="#8fdb82" />
<circle cx="490.9" cy="974.4" r="5.5" fill="#8fdb82" />
<circle cx="484.4" cy="988.1" r="5.5" fill="#8fdb82" />
<circle cx="464.6" cy="995.5" r="5.5" fill="#8fdb82" />
<circle cx="467" cy="1012.9" r="5.5" fill="#8fdb82" />
<circle cx="467" cy="1052.2" r="5.5" fill="#8fdb82" />
<circle cx="533.8" cy="1004.8" r="5.5" fill="#8fdb82" />
<circle cx="563.5" cy="1011.3" r="5.5" fill="#8fdb82" />
<circle cx="443.5" cy="924.1" r="5.5" fill="#9fd9e5" />
<circle cx="419.4" cy="979.4" r="5.5" fill="#9fd9e5" />
<circle cx="444.7" cy="978.9" r="5.5" fill="#9fd9e5" />
<circle cx="441.7" cy="980.6" r="5.5" fill="#9fd9e5" />
<circle cx="469.5" cy="979.4" r="5.5" fill="#9fd9e5" />
<circle cx="485.9" cy="984.9" r="5.5" fill="#9fd9e5" />
<circle cx="442.5" cy="991" r="5.5" fill="#9fd9e5" />
<circle cx="443.7" cy="999.3" r="5.5" fill="#9fd9e5" />
<circle cx="462.8" cy="1023.3" r="5.5" fill="#9fd9e5" />
<path d="M419.9,961.7 L423.6,963.7 L427.3,965.7 L431.0,967.7 L434.6,969.7 L438.3,971.7 L442.0,973.6 L445.7,975.6 L449.4,977.5 L453.1,979.4 L456.8,981.2 L460.4,983.0 L464.1,984.8 L467.8,986.6 L471.5,988.3 L475.2,990.0 L478.9,991.6 L482.5,993.2 L486.2,994.8 L489.9,996.2 L493.6,997.7 L497.3,999.1 L501.0,1000.4 L504.7,1001.6 L508.3,1002.8 L512.0,1004.0 L515.7,1005.1 L519.4,1006.2 L523.1,1007.2 L526.8,1008.1 L530.5,1009.0 L534.1,1009.9 L537.8,1010.8 L541.5,1011.6 L545.2,1012.3 L548.9,1013.1 L552.6,1013.8 L556.2,1014.5 L559.9,1015.1 L563.6,1015.8 L567.3,1016.4 L571.0,1017.0 L574.7,1017.6 L578.4,1018.2 L582.0,1018.8 L585.7,1019.3 L589.4,1019.9 L593.1,1020.4 L596.8,1021.0 L600.5,1021.5 L604.1,1022.0 L607.8,1022.5 L611.5,1023.0 L615.2,1023.5 L618.9,1024.0 L622.6,1024.4 L626.3,1024.9 L629.9,1025.4 L633.6,1025.9 L637.3,1026.3 L641.0,1026.8 L641.0,1103.4 L637.3,1101.3 L633.6,1099.1 L629.9,1097.0 L626.3,1094.9 L622.6,1092.7 L618.9,1090.6 L615.2,1088.5 L611.5,1086.4 L607.8,1084.2 L604.1,1082.1 L600.5,1080.1 L596.8,1078.0 L593.1,1075.9 L589.4,1073.8 L585.7,1071.8 L582.0,1069.7 L578.4,1067.7 L574.7,1065.6 L571.0,1063.6 L567.3,1061.6 L563.6,1059.7 L559.9,1057.7 L556.2,1055.8 L552.6,1053.9 L548.9,1052.0 L545.2,1050.1 L541.5,1048.3 L537.8,1046.5 L534.1,1044.7 L530.5,1043.0 L526.8,1041.3 L523.1,1039.6 L519.4,1038.0 L515.7,1036.5 L512.0,1035.0 L508.3,1033.5 L504.7,1032.1 L501.0,1030.8 L497.3,1029.5 L493.6,1028.3 L489.9,1027.1 L486.2,1026.0 L482.5,1024.9 L478.9,1023.9 L475.2,1022.9 L471.5,1022.0 L467.8,1021.1 L464.1,1020.2 L460.4,1019.4 L456.8,1018.6 L453.1,1017.9 L449.4,1017.2 L445.7,1016.5 L442.0,1015.8 L438.3,1015.1 L434.6,1014.5 L431.0,1013.9 L427.3,1013.3 L423.6,1012.7 L419.9,1012.1Z" fill="#999999" fill-opacity="0.4"/>
<line x1="419.9" y1="986.9" x2="641" y2="1065.1" stroke="#3366ff" stroke-width="4.1"/>
<rect x="409.3" y="915.5" width="241.90000000000003" height="196.70000000000005" fill="none" stroke="#4d4d4d" stroke-width="1.1"/>
<line x1="409.3" y1="915.0" x2="409.3" y2="1113.2" stroke="#1a1a1a" stroke-width="2" />
<line x1="408.3" y1="1112.2" x2="651.7" y2="1112.2" stroke="#1a1a1a" stroke-width="2" />
<line x1="404.0" y1="1077.54" x2="409.3" y2="1077.54" stroke="#333" stroke-width="1.5" />
<text x="398.5" y="1082.74" font-size="15" text-anchor="end" >4</text>
<line x1="404.0" y1="1028.46" x2="409.3" y2="1028.46" stroke="#333" stroke-width="1.5" />
<text x="398.5" y="1033.66" font-size="15" text-anchor="end" >8</text>
<line x1="404.0" y1="979.38" x2="409.3" y2="979.38" stroke="#333" stroke-width="1.5" />
<text x="398.5" y="984.58" font-size="15" text-anchor="end" >12</text>
<line x1="404.0" y1="930.3" x2="409.3" y2="930.3" stroke="#333" stroke-width="1.5" />
<text x="398.5" y="935.5" font-size="15" text-anchor="end" >16</text>
<line x1="423.4" y1="1112.2" x2="423.4" y2="1117.2" stroke="#333" stroke-width="1.5" />
<text x="423.4" y="1134" font-size="15" text-anchor="middle" >0.0</text>
<line x1="480.9" y1="1112.2" x2="480.9" y2="1117.2" stroke="#333" stroke-width="1.5" />
<text x="480.9" y="1134" font-size="15" text-anchor="middle" >2.5</text>
<line x1="538.4" y1="1112.2" x2="538.4" y2="1117.2" stroke="#333" stroke-width="1.5" />
<text x="538.4" y="1134" font-size="15" text-anchor="middle" >5.0</text>
<line x1="595.9" y1="1112.2" x2="595.9" y2="1117.2" stroke="#333" stroke-width="1.5" />
<text x="595.9" y="1134" font-size="15" text-anchor="middle" >7.5</text>
<line x1="653.4" y1="1112.2" x2="653.4" y2="1117.2" stroke="#333" stroke-width="1.5" />
<text x="653.4" y="1134" font-size="15" text-anchor="middle" >10.0</text>
<text x="366" y="1021" font-size="15" text-anchor="middle" transform="rotate(-90 366 1021)" dy="5">OP relative abundance (%)</text>
<text x="532.7" y="1154" font-size="15" text-anchor="middle" ><tspan font-style="italic">Meloidogyne</tspan> relative abundance (%)</text>
<text x="643" y="941.9" font-size="15.6" text-anchor="end"><tspan font-style="italic">r</tspan> = <tspan fill="#999" stroke="#999">–</tspan> 0.47, <tspan font-style="italic">p</tspan> = 0.0083</text>
<line x1="650" y1="1112.2" x2="653.8" y2="1112.2" stroke="#1a1a1a" stroke-width="2" />
<line x1="653.4" y1="1112.2" x2="653.4" y2="1116.5" stroke="#333" stroke-width="1.5" />
</svg>
</body></html>
